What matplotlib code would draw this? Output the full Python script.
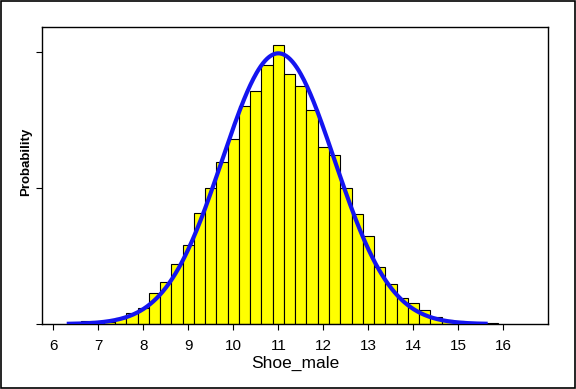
import numpy as np
import matplotlib
matplotlib.use("Agg")
import matplotlib.pyplot as plt
from matplotlib.patches import Rectangle

matplotlib.rcParams["font.family"] = ["Liberation Sans", "DejaVu Sans"]

# 直方图数据（概率密度，组宽 0.25）
bin_centers = [6.75, 7.0, 7.25, 7.5, 7.75, 8.0, 8.25, 8.5, 8.75, 9.0, 9.25, 9.5,
               9.75, 10.0, 10.25, 10.5, 10.75, 11.0, 11.25, 11.5, 11.75, 12.0,
               12.25, 12.5, 12.75, 13.0, 13.25, 13.5, 13.75, 14.0, 14.25, 14.5,
               14.75, 15.0, 15.25, 15.5, 15.75]
density = [0.0041, 0.0012, 0.0024, 0.0067, 0.0126, 0.0185, 0.0363, 0.0500,
           0.0705, 0.0933, 0.1315, 0.1603, 0.1910, 0.2182, 0.2572, 0.2749,
           0.3056, 0.3292, 0.2950, 0.2808, 0.2525, 0.2087, 0.1993, 0.1603,
           0.1299, 0.1036, 0.0670, 0.0473, 0.0307, 0.0245, 0.0162, 0.0083,
           0.0047, 0.0039, 0.0018, 0.0012, 0.0008]
bin_width = 0.25

# 拟合正态曲线参数
mu = 11.0
sigma = 1.247
data_min, data_max = 6.3, 15.65

x_ticks = [6, 7, 8, 9, 10, 11, 12, 13, 14, 15, 16]
y_ticks = [0, 0.1607, 0.3213]

fig = plt.figure(figsize=(5.76, 3.89), dpi=100)
ax = fig.add_axes([0.0729, 0.167, 0.8793, 0.7636])

ax.bar(bin_centers, density, width=bin_width, color="#FFFF00",
       edgecolor="black", linewidth=0.8, align="center", zorder=2)

xs = np.linspace(data_min, data_max, 400)
pdf = np.exp(-0.5 * ((xs - mu) / sigma) ** 2) / (sigma * np.sqrt(2 * np.pi))
ax.plot(xs, pdf, color="#1414F0", linewidth=3.0, zorder=3, solid_capstyle="butt")

ax.set_xlim(5.75, 17.0)
ax.set_ylim(0, 0.351)
ax.set_xticks(x_ticks)
ax.set_xticklabels([str(t) for t in x_ticks], fontsize=11)
ax.set_yticks(y_ticks)
ax.set_yticklabels([])
ax.tick_params(direction="out", length=4, width=0.8, pad=7)

for sp in ax.spines.values():
    sp.set_linewidth(1.0)

ax.set_xlabel("Shoe_male", fontsize=12.5, labelpad=2)
ax.set_ylabel("Probability", fontsize=9.5, fontweight="bold")
ax.yaxis.set_label_coords(-0.02, 0.545)

fig.add_artist(Rectangle((0.001, 0.002), 0.997, 0.996, transform=fig.transFigure,
                         fill=False, edgecolor="black", linewidth=1.2))

plt.savefig("out.png", dpi=100)
